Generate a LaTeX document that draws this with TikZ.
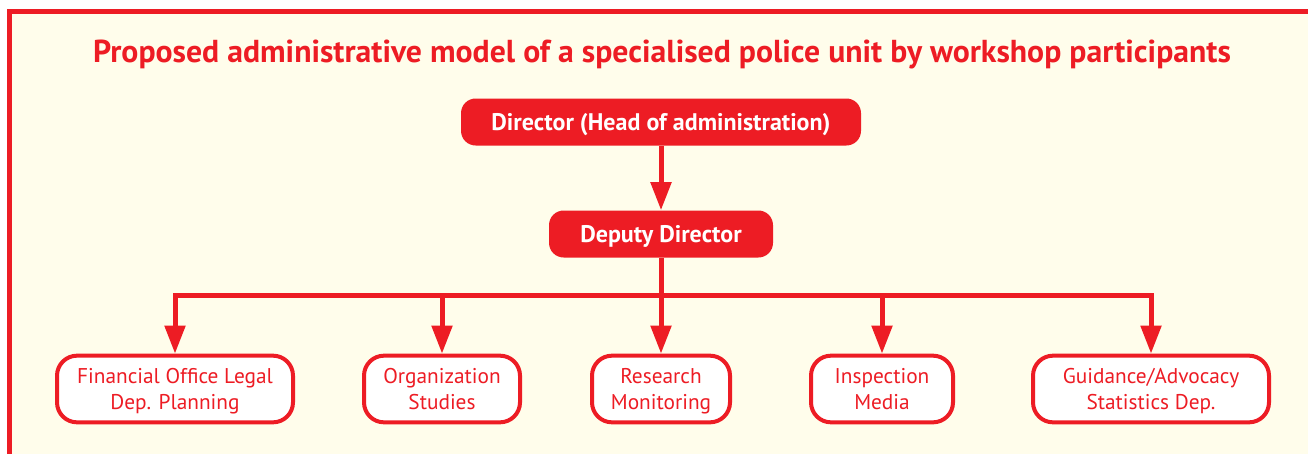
\documentclass[tikz,border=0pt]{standalone}
\usepackage{fontspec}
\setmainfont{PT Sans}
\usetikzlibrary{arrows.meta}
\definecolor{unitred}{HTML}{ED1C24}
\definecolor{paper}{HTML}{FFFDEB}

\begin{document}
\begin{tikzpicture}[x=0.75pt,y=-0.75pt,
  head/.style={fill=unitred,rounded corners=11pt,text=white,inner sep=0pt,
    minimum height=35.25pt,text depth=0pt,font=\bfseries\fontsize{18}{20}\selectfont},
  dept/.style={draw=unitred,line width=3pt,fill=white,rounded corners=15pt,
    text=unitred,align=center,inner sep=0pt,minimum height=50pt,text depth=0pt,
    font=\fontsize{16}{19.5}\selectfont},
  link/.style={unitred,line width=3.75pt},
  arr/.style={link,-{Triangle[length=21pt,width=15pt]}}]
\useasboundingbox (0,0) rectangle (1308,453);
\fill[paper] (9.5,12) rectangle (1320,470);
\draw[link] (9.5,470) -- (9.5,12) -- (1320,12);

\node[anchor=base,text=unitred,font=\bfseries\fontsize{23.8}{26}\selectfont] (title) at (662,63)
  {Proposed administrative model of a specialised police unit by workshop participants};

\node[head,minimum width=300pt] (dir) at (661,122) {Director (Head of administration)};
\node[head,minimum width=168pt] (dep) at (661,234) {Deputy Director};

\node[dept,minimum width=177pt] (fin) at (175,389) {Financial Office Legal\\Dep. Planning};
\node[dept,minimum width=117pt] (org) at (442,389) {Organization\\Studies};
\node[dept,minimum width=103.5pt] (res) at (661,389) {Research\\Monitoring};
\node[dept,minimum width=106.5pt] (ins) at (882,389) {Inspection\\Media};
\node[dept,minimum width=177pt] (gui) at (1151,389) {Guidance/Advocacy\\Statistics Dep.};

\coordinate (bus) at (661,295);
\coordinate (busL) at (175,295);
\coordinate (busR) at (1151,295);

\draw[arr] (dir) -- (dep);
\draw[link] (dep) -- (bus);
\draw[link,line cap=rect] (busL) -- (busR);
\foreach \d in {fin,org,res,ins,gui}
  \draw[arr] (bus -| \d) -- (\d);
\end{tikzpicture}
\end{document}
